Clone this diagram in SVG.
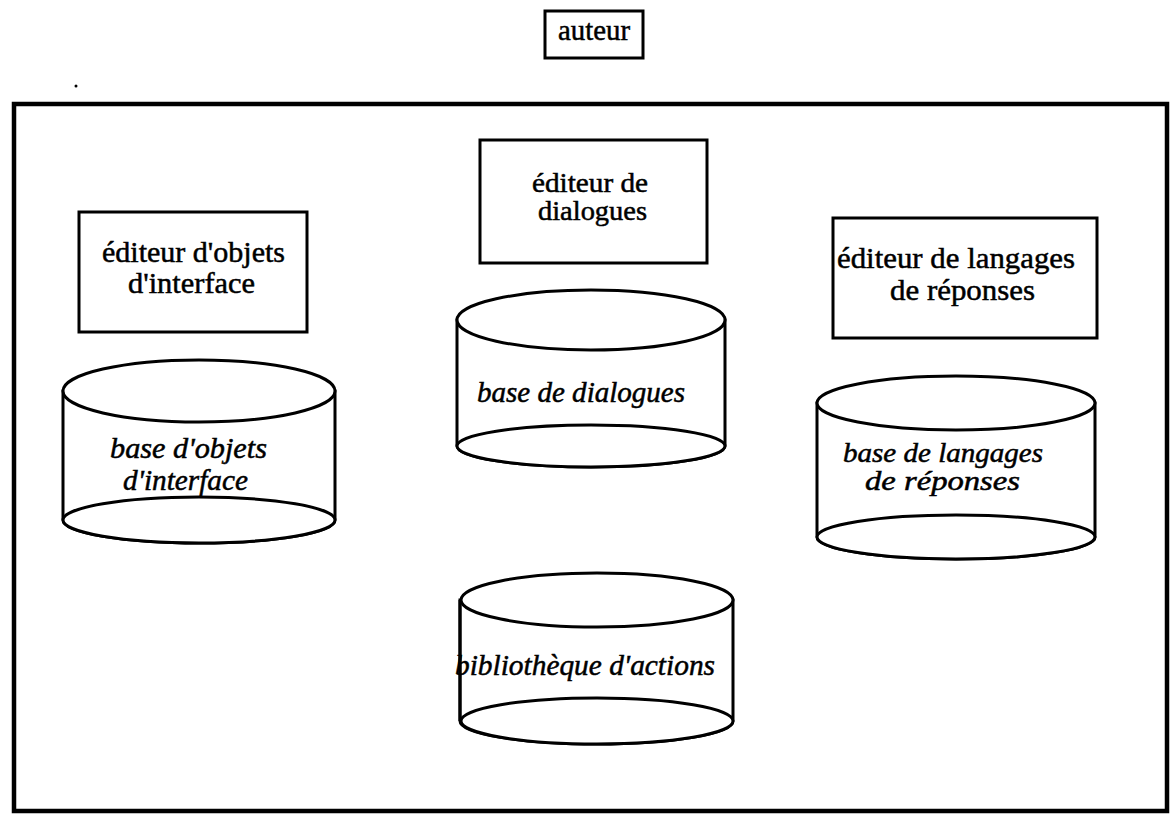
<svg xmlns="http://www.w3.org/2000/svg" width="1172" height="818" viewBox="0 0 1172 818">
<style>
.box{fill:#fff;stroke:#000;stroke-width:3}
.frame{fill:none;stroke:#000;stroke-width:4.5}
.cyl{fill:#fff;stroke:#000;stroke-width:3}
.side{fill:none;stroke:#000;stroke-width:3}
.t{font-family:"Liberation Serif","Times New Roman",serif;font-size:30px;fill:#000;stroke:#000;stroke-width:0.5;text-anchor:start}
.i{font-family:"Liberation Serif","Times New Roman",serif;font-style:italic;font-size:29px;fill:#000;stroke:#000;stroke-width:0.5;text-anchor:start}
.s{font-size:27px}
</style>
<rect width="1172" height="818" fill="#fff"/>
<g id="auteur">
<rect class="box" x="545" y="11" width="98" height="47"/>
<text class="t" x="558" y="40" textLength="72" lengthAdjust="spacingAndGlyphs">auteur</text>
</g>
<circle cx="76" cy="86" r="1.5" fill="#000"/>
<g id="systeme">
<rect class="frame" x="14" y="104" width="1153" height="707"/>
</g>
<g id="editeur-objets">
<rect class="box" x="79" y="212" width="228" height="120"/>
<text class="t" x="102" y="262" textLength="183" lengthAdjust="spacingAndGlyphs">éditeur d'objets</text>
<text class="t" x="128" y="293" textLength="127" lengthAdjust="spacingAndGlyphs">d'interface</text>
</g>
<g id="editeur-dialogues">
<rect class="box" x="480" y="140" width="227" height="123"/>
<text class="t s" x="532" y="192" textLength="116" lengthAdjust="spacingAndGlyphs">éditeur de</text>
<text class="t s" x="538" y="220" textLength="109" lengthAdjust="spacingAndGlyphs">dialogues</text>
</g>
<g id="editeur-langages">
<rect class="box" x="833" y="218" width="264" height="120"/>
<text class="t" x="837" y="268" textLength="238" lengthAdjust="spacingAndGlyphs">éditeur de langages</text>
<text class="t" x="890" y="300" textLength="145" lengthAdjust="spacingAndGlyphs">de réponses</text>
</g>
<g id="base-objets">
<path class="cyl" d="M63 391 L63 520 A136 23 0 0 0 335 520 L335 391 Z"/>
<ellipse class="cyl" cx="199" cy="520" rx="136" ry="23"/>
<ellipse class="cyl" cx="199" cy="391" rx="136" ry="31"/>
<text class="i" x="110" y="458" textLength="157" lengthAdjust="spacingAndGlyphs">base d'objets</text>
<text class="i" x="123" y="490" textLength="125" lengthAdjust="spacingAndGlyphs">d'interface</text>
</g>
<g id="base-dialogues">
<path class="cyl" d="M457 320 L457 446 A134 21 0 0 0 725 446 L725 320 Z"/>
<ellipse class="cyl" cx="591" cy="446" rx="134" ry="21"/>
<ellipse class="cyl" cx="591" cy="320" rx="134" ry="30"/>
<text class="i" x="477" y="402" textLength="208" lengthAdjust="spacingAndGlyphs">base de dialogues</text>
</g>
<g id="base-langages">
<path class="cyl" d="M817 403 L817 537 A139 22 0 0 0 1095 537 L1095 403 Z"/>
<ellipse class="cyl" cx="956" cy="537" rx="139" ry="22"/>
<ellipse class="cyl" cx="956" cy="403" rx="139" ry="27"/>
<text class="i s" x="843" y="462" textLength="200" lengthAdjust="spacingAndGlyphs">base de langages</text>
<text class="i s" x="865" y="490" textLength="155" lengthAdjust="spacingAndGlyphs">de réponses</text>
</g>
<g id="bibliotheque">
<path class="cyl" d="M460 600 L460 721 A136 23 0 0 0 733 721 L733 600 Z"/>
<ellipse class="cyl" cx="597" cy="721" rx="136" ry="23"/>
<ellipse class="cyl" cx="597" cy="600" rx="136" ry="27"/>
<text class="i" x="455" y="675" textLength="260" lengthAdjust="spacingAndGlyphs">bibliothèque d'actions</text>
<line class="side" x1="460" y1="600" x2="460" y2="721"/>
</g>
<g id="connectors"></g>
</svg>
